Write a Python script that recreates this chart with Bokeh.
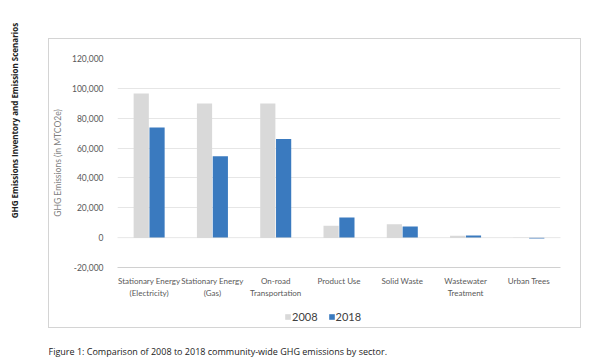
from bokeh.plotting import figure
from bokeh.models import (ColumnDataSource, FactorRange, Range1d, FixedTicker, NumeralTickFormatter,
                          Span, Legend, LegendItem, Label, Spacer)
from bokeh.layouts import row, column
from bokeh.transform import dodge
from bokeh.embed import file_html
from bokeh.resources import INLINE
import math

sectors = ["Stationary Energy\n(Electricity)", "Stationary Energy\n(Gas)", "On-road\nTransportation",
           "Product Use", "Solid Waste", "Wastewater\nTreatment", "Urban Trees"]
emissions_2008 = [96500, 89800, 89800, 8000, 8900, 1300, -300]
emissions_2018 = [73800, 54500, 66100, 13500, 7400, 1400, -500]
y_ticks = [-20000, 0, 20000, 40000, 60000, 80000, 100000, 120000]
side_title = "GHG Emissions Inventory and Emission Scenarios"
caption = "Figure 1: Comparison of 2008 to 2018 community-wide GHG emissions by sector."

FONT = "Lato"
CAP_FONT = "Open Sans"
GRAY = "#d9d9d9"
BLUE = "#3a7abf"

src = ColumnDataSource(dict(sector=sectors, y2008=emissions_2008, y2018=emissions_2018))

# main chart
p = figure(width=531, height=262, x_range=FactorRange(*sectors, range_padding=0),
           y_range=Range1d(-20000, 120000), output_backend="svg", toolbar_location=None,
           min_border_left=64, min_border_right=20, min_border_top=19, min_border_bottom=34)
p.outline_line_color = None

p.vbar(x=dodge("sector", -0.125, range=p.x_range), top="y2008", width=0.24, source=src,
       fill_color=GRAY, line_color=None)
p.vbar(x=dodge("sector", 0.125, range=p.x_range), top="y2018", width=0.24, source=src,
       fill_color=BLUE, line_color=None)

p.yaxis.ticker = FixedTicker(ticks=y_ticks)
p.yaxis.formatter = NumeralTickFormatter(format="0,0")
p.yaxis.axis_line_color = None
p.yaxis.major_tick_line_color = None
p.yaxis.minor_tick_line_color = None
p.yaxis.major_label_text_font = FONT
p.yaxis.major_label_text_font_size = "8.5px"
p.yaxis.major_label_text_color = "#595959"
p.yaxis.major_label_standoff = 8
p.yaxis.axis_label = "GHG Emissions (in MTCO2e)"
p.yaxis.axis_label_text_font = FONT
p.yaxis.axis_label_text_font_size = "8.5px"
p.yaxis.axis_label_text_font_style = "normal"
p.yaxis.axis_label_text_color = "#7f7f7f"
p.yaxis.axis_label_standoff = 6

p.xaxis.axis_line_color = "#d0d0d0"
p.xaxis.major_tick_line_color = None
p.xaxis.minor_tick_line_color = None
p.xaxis.major_label_text_font = FONT
p.xaxis.major_label_text_font_size = "8px"
p.xaxis.major_label_text_color = "#595959"
p.xaxis.major_label_standoff = 2

p.xgrid.grid_line_color = None
p.ygrid.ticker = FixedTicker(ticks=[t for t in y_ticks if t != 0])
p.ygrid.grid_line_color = "#e6e6e6"
p.add_layout(Span(location=0, dimension="width", line_color="#cfcfcf", line_dash="1 1", line_width=1))

# legend strip (same series, bars fall outside its view; only the legend shows)
lg = figure(width=531, height=26, x_range=FactorRange(*sectors), y_range=Range1d(1e6, 2e6),
            output_backend="svg", toolbar_location=None, min_border=0,
            x_axis_location=None, y_axis_location=None)
lg.grid.visible = False
lg.outline_line_color = None
l1 = lg.vbar(x="sector", top="y2008", width=0.24, source=src, fill_color=GRAY, line_color=None)
l2 = lg.vbar(x="sector", top="y2018", width=0.24, source=src, fill_color=BLUE, line_color=None)
legend = Legend(items=[LegendItem(label="2008", renderers=[l1]), LegendItem(label="2018", renderers=[l2])],
                orientation="horizontal", location=(167, 4), label_text_font=FONT,
                label_text_font_size="11px", label_text_color="#404040", glyph_width=7, glyph_height=7,
                spacing=10, label_standoff=1, border_line_color=None, background_fill_alpha=0,
                padding=2, margin=0, label_height=10)
lg.add_layout(legend)

box = column(p, lg, styles={"border": "1px solid #d4d4d4"})

# vertical side title
t = figure(width=48, height=356, x_range=Range1d(0, 48), y_range=Range1d(0, 356),
           output_backend="svg", toolbar_location=None, min_border=0,
           x_axis_location=None, y_axis_location=None)
t.grid.visible = False
t.outline_line_color = None
t.add_layout(Label(x=14, y=236, angle=math.pi / 2, text=side_title, text_font=CAP_FONT,
                   text_font_size="8px", text_font_style="bold", text_color="#222222",
                   text_align="center", text_baseline="middle"))

# caption
c = figure(width=533, height=30, x_range=Range1d(0, 533), y_range=Range1d(0, 30),
           output_backend="svg", toolbar_location=None, min_border=0,
           x_axis_location=None, y_axis_location=None)
c.grid.visible = False
c.outline_line_color = None
c.add_layout(Label(x=0, y=7, text=caption, text_font=CAP_FONT, text_font_size="9px",
                   text_color="#222222", text_align="left", text_baseline="alphabetic"))

layout = row(t, column(Spacer(width=533, height=38), box, c))
open("out.html", "w").write(file_html(layout, INLINE))
